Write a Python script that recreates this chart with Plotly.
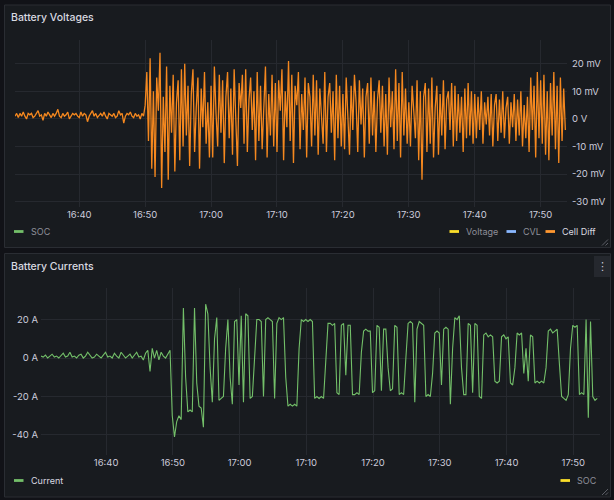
import pandas as pd
import plotly.graph_objects as go

W, H = 614, 500

# ---------------- data ----------------
cell_diff_start = "2024-01-01 16:30:15"
cell_diff_step_s = 15
cell_diff_mv = [
    # 16:30 - 16:50 quiet period
    1, 2, 0.5, 2, 1, 2.5, 1, 0, 2, 1.5,
    2, 0.5, 1, 2, 3, 1, 1.5, -0.5, 2, 1,
    2.5, 1.5, 0.5, 2, 1, 2, 3.5, 1, 0.5, 2,
    1, 1.5, 2.5, 0, 1, 2, 1.5, 2, 1, 0.5,
    2.5, 1, 2, 1.5, -1, 1, 2, 3, 1, 2,
    0.5, 1.5, 2, 1, 2.5, 1, 0, 2, 1.5, 1,
    2, 0.5, 1, 3, 1.5, 2, -1.5, 1, 2, 1.5,
    2.5, 1, 0.5, 2, 1, 1.5, 0, 2, 1,
    # 16:50 - 16:56
    5, 17, -8, 22, -18, 10, -21, 15, 3, 24, -25, 8,
    -12, 19, -22, 12, -5, 16, -19, 6, 14, -15, 18, -10,
    # 16:56 - 17:00
    20, -6, 12, -17, 9, 18, -12, 4, 15, -18, 11, -3, 17, -9, 6, -14,
    # 17:00 - 17:10
    12, -14, 19, 2, -10, 16, -5, 14, -16, 8, 17, -7, 11, -13, 18, 0,
    -17, 13, 4, 16, -9, 18, -12, 7, 15, -4, 10, -15, 17, -8, 12, -11,
    6, 19, -14, 9, -6, 16, -10, 13,
    # 17:10 - 17:20
    -12, 14, 3, 18, -15, 10, -3, 21, -8, 16, -16, 12, 5, 17, -11, 9,
    -4, 15, -14, 13, 8, -10, 16, -6, 14, -13, 11, 2, -9, 17, -12, 8,
    13, -5, 10, -15, 16, -7, 12, -10,
    # 17:20 - 17:30
    9, -11, 15, 1, -13, 12, -4, 16, 6, -12, 14, -2, 11, -14, 8, 13,
    -9, 15, -6, 10, -12, 7, 14, -5, 12, -10, 9, -13, 15, -3, 10, -11,
    18, -8, 13, -14, 17, -6, 11, -9,
    # 17:30 - 17:40
    6, -10, 12, 3, -7, 14, -15, 10, -22, 8, 13, -12, 11, -9, 15, -14,
    4, 12, -13, 9, -6, 14, -11, 7, 10, -4, 13, -10, 12, -8, 9, -5,
    8, -12, 11, -7, 13, -6, 10, -9,
    # 17:40 - 17:48
    9, -7, 8, -4, 10, -9, 6, -2, 8, -6, 9, -10, 5, 9, -8, 7,
    -5, 10, -7, 4, 8, -9, 6, -3, 9, -8, 7, -6, 10, -10, 5, -7,
    # 17:48 - 17:54
    8, -12, 15, -4, 12, -14, 17, -7, 14, -9, 16, -13,
    10, -15, 13, -6, 17, -11, 12, -16, 15, -8, 11, -4,
]

current_start = "2024-01-01 16:30:15"
current_step_s = 20
current_a = [
    1, 0.5, 1.5, 0, 1, 2, 0.5, 1, 0, 1.5,
    2.5, 0.5, 1, 3, 0.5, 1, 0, 1.5, 2, 0,
    1, 3, 1.5, 0, 0.5, 2, 1, 0, 1.5, 3,
    0.5, 1, 0, 2.5, 1, 0, 3, 1.5, 0, 1,
    2, 0, 1.5, 3, 0.5, 1, -1, 2.5, 4, -7,
    5, 0, 4, -1, 3, 1, 0, 2, 4,
    -30, -41, -33, -30, -32, 26, -10, -28, -27, -28,
    26, -13, -25, -26, -36, 28, 23, -5, -23, 10,
    21, -22, -21, -20, 5, 20, -10, -24, 19, 20,
    -14, 22, -23, 23, 22, -21, -20, 2, 20, 20,
    19, -20, 20, 21, 20, 19, -21, 18, 21, 20,
    21, -10, -25, -24, -25, -24, -25, 5, 20, 19,
    20, 19, 20, 19, -21, -20, -21, -20, -21, 0,
    18, 18, 17, 18, -18, -19, 17, 18, -9, 17,
    17, -19, -19, -18, -19, 3, 14, 15, 14, 14,
    -18, -17, 17, 16, -17, 15, 15, -5, -17, -16,
    17, 16, -19, -18, -19, 0, 18, 19, 18, -23,
    15, 19, 18, 17, -20, -19, -20, -8, 13, 14,
    13, -14, 15, 16, 15, -24, 5, 21, 20, 22,
    -5, -19, -19, 18, 17, -18, 18, 17, -20, -21,
    12, 13, 11, 12, 11, -12, -13, -12, 11, 12,
    10, 11, -13, -14, -5, 13, 12, 13, -8, 5,
    -12, 12, 11, -13, -12, -13, -12, -13, -5, 14,
    15, 13, 14, 15, -3, -20, -21, -22, -19, 5,
    17, 16, 17, -19, -18, -19, 20, -31, 19, -20,
    -22, -21,
]

x_range = ["2024-01-01 16:30:15", "2024-01-01 17:54:00"]
x_tick0 = "2024-01-01 16:40:00"
volt_tick_vals = [-30, -20, -10, 0, 10, 20]
volt_tick_text = ["-30 mV", "-20 mV", "-10 mV", "0 V", "10 mV", "20 mV"]
curr_tick_vals = [-40, -20, 0, 20]
curr_tick_text = ["-40 A", "-20 A", "0 A", "20 A"]

top_legend_left = [("SOC", "#73BF69", False)]
top_legend_right = [("Voltage", "#FADE2A", False), ("CVL", "#8AB8FF", False), ("Cell Diff", "#FF9830", True)]
bot_legend_left = [("Current", "#73BF69", True)]
bot_legend_right = [("SOC", "#FADE2A", False)]

# ---------------- build ----------------
t_cell = pd.date_range(cell_diff_start, periods=len(cell_diff_mv), freq=f"{cell_diff_step_s}s")
t_curr = pd.date_range(current_start, periods=len(current_a), freq=f"{current_step_s}s")

def px(x):
    return x / W

def py(y):
    return 1 - y / H

BG = "#111217"
PANEL = "#181b1f"
BORDER = "#2a2d33"
GRID = "#26292f"
TXT = "#ccccdc"
DIM = "#8e8f99"
FONT = "Inter"
TICK = dict(family=FONT, size=9.5, color=TXT)

fig = go.Figure()
fig.add_trace(go.Scatter(x=t_cell, y=cell_diff_mv, mode="lines", name="Cell Diff",
                         line=dict(color="#F5881F", width=1.3), xaxis="x", yaxis="y",
                         showlegend=False, hoverinfo="skip"))
fig.add_trace(go.Scatter(x=t_curr, y=current_a, mode="lines", name="Current",
                         line=dict(color="#73BF69", width=1.1), xaxis="x2", yaxis="y2",
                         showlegend=False, hoverinfo="skip"))

xcommon = dict(type="date", range=x_range, tick0=x_tick0, dtick=600000, tickformat="%H:%M",
               showgrid=True, gridcolor=GRID, gridwidth=1, zeroline=False, showline=False,
               ticks="", tickfont=TICK, fixedrange=True)

fig.update_layout(
    width=W, height=H, margin=dict(l=0, r=0, t=0, b=0),
    paper_bgcolor=BG, plot_bgcolor="rgba(0,0,0,0)", showlegend=False,
    font=dict(family=FONT, color=TXT),
    xaxis=dict(domain=[px(15), px(567)], anchor="y", **xcommon),
    yaxis=dict(domain=[py(207), py(40)], anchor="x", side="right", range=[-31.9, 28.6],
               tickvals=volt_tick_vals, ticktext=volt_tick_text, showgrid=True, gridcolor=GRID,
               zeroline=False, ticks="", ticklabelstandoff=4, tickfont=TICK, fixedrange=True),
    xaxis2=dict(domain=[px(41), px(600)], anchor="y2", **xcommon),
    yaxis2=dict(domain=[py(455), py(288)], anchor="x2", side="left", range=[-50.4, 36.4],
                tickvals=curr_tick_vals, ticktext=curr_tick_text, showgrid=True, gridcolor=GRID,
                zeroline=False, ticks="", ticklabelstandoff=2, tickfont=TICK, fixedrange=True),
)

shapes = []
annotations = []

def panel(y0, y1):
    shapes.append(dict(type="rect", xref="paper", yref="paper", x0=px(4.5), x1=px(610.5),
                       y0=py(y1), y1=py(y0), fillcolor=PANEL, line=dict(color=BORDER, width=1),
                       layer="below"))
    # resize handle
    for d in (0, 3.5):
        shapes.append(dict(type="line", xref="paper", yref="paper",
                           x0=px(602 + d), y0=py(y1 - 2), x1=px(608), y1=py(y1 - 8 + d),
                           line=dict(color="#5c5e66", width=1)))

panel(5, 247.5)
panel(253.5, 497)

def title(text, y):
    annotations.append(dict(text=text, xref="paper", yref="paper", x=px(8.5), y=py(y),
                            xanchor="left", yanchor="middle", showarrow=False,
                            font=dict(family=FONT, size=10.5, color="#d8d9e0", weight=500)))

title("Battery Voltages", 17.5)
title("Battery Currents", 266.5)

# menu button on second panel
shapes.append(dict(type="rect", xref="paper", yref="paper", x0=px(594), x1=px(610),
                   y0=py(277), y1=py(256), fillcolor="#25282e", line=dict(width=0)))
annotations.append(dict(text="⋮", xref="paper", yref="paper", x=px(602), y=py(266),
                        xanchor="center", yanchor="middle", showarrow=False,
                        font=dict(family="DejaVu Sans", size=11, color=TXT)))

def legend_item(name, color, active, x, y):
    shapes.append(dict(type="rect", xref="paper", yref="paper", x0=px(x), x1=px(x + 9.5),
                       y0=py(y + 1.4), y1=py(y - 1.4), fillcolor=color, line=dict(width=0)))
    annotations.append(dict(text=name, xref="paper", yref="paper", x=px(x + 14.5), y=py(y),
                            xanchor="left", yanchor="middle", showarrow=False,
                            font=dict(family=FONT, size=9, color=("#d8d9e0" if active else DIM))))

for (name, color, active), xs in zip(top_legend_left, [14]):
    legend_item(name, color, active, xs, 231.5)
for (name, color, active), xs in zip(top_legend_right, [449.5, 506.5, 545.5]):
    legend_item(name, color, active, xs, 231.5)
for (name, color, active), xs in zip(bot_legend_left, [14]):
    legend_item(name, color, active, xs, 480.5)
for (name, color, active), xs in zip(bot_legend_right, [560.5]):
    legend_item(name, color, active, xs, 480.5)

fig.update_layout(shapes=shapes, annotations=annotations)
fig.write_html("out.html", config={"displayModeBar": False, "staticPlot": True},
               post_script="document.body.style.margin='0';document.body.style.overflow='hidden';")
